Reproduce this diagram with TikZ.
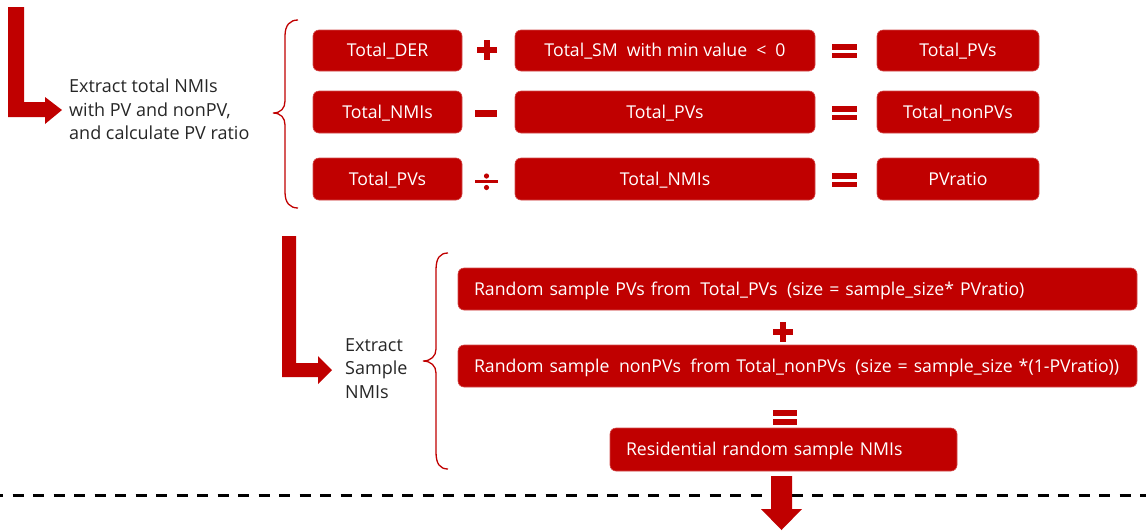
\documentclass[tikz,border=0pt]{standalone}
\usepackage{fontspec}
\setmainfont{Open Sans}
\definecolor{cred}{HTML}{C00000}
\definecolor{ctext}{HTML}{262626}
\newcommand{\gapsp}{\hspace{9.5pt}}
\tikzset{
  box/.style={fill=cred, draw=cred!70!white, line width=0.6, rounded corners=6, text=white, inner sep=0, align=center, text height=12.7, text depth=0, font=\fontsize{17.7}{22}\selectfont},
  lbox/.style={box, align=left, inner xsep=16},
  label/.style={text=ctext, align=left, anchor=north west, inner sep=0, font=\fontsize{18}{23.5}\selectfont},
  op/.style={fill=cred, draw=none},
  brc/.style={draw=cred, line width=1.3, fill=none},
}
\begin{document}
\begin{tikzpicture}[x=1pt,y=-1pt]
\useasboundingbox (0,0) rectangle (1146,531);
% dashed separator
\draw[black, line width=3, dash pattern=on 11 off 9.5, dash phase=8] (0,495) -- (1146,495);
% L arrows
\fill[cred] (8,7) -- (24,7) -- (24,102) -- (45,102) -- (45,97) -- (62,110) -- (45,124) -- (45,117) -- (8,117) -- cycle;
\fill[cred] (282,236) -- (296,236) -- (296,363) -- (318,363) -- (318,356) -- (332,370) -- (318,384) -- (318,377) -- (282,377) -- cycle;
% labels
\node[label] (l1) at (69,79) {Extract total NMIs\\with PV and nonPV,\\and calculate PV ratio};
\node[label] (l2) at (345,338) {Extract\\Sample\\NMIs};
% braces
\draw[brc] (298,20) .. controls (290,20) and (285,25) .. (285,36) -- (285,101) .. controls (285,108) and (281,113) .. (273,113) .. controls (281,113) and (285,118) .. (285,125) -- (285,192) .. controls (285,203) and (290,208) .. (298,208);
\draw[brc] (448,253) .. controls (440,253) and (436,258) .. (436,270) -- (436,349) .. controls (436,356) and (431,361) .. (423,361) .. controls (431,361) and (436,366) .. (436,373) -- (436,452) .. controls (436,464) and (440,469) .. (448,469);
% row 1
\node[box, minimum width=149, minimum height=41] (der) at (387.5,50.5) {Total\_DER};
\node[box, minimum width=300, minimum height=41] (sm) at (665,50.5) {Total\_SM\hspace{9pt}with min value\hspace{9pt}<\hspace{9pt}0};
\node[box, minimum width=162, minimum height=41] (pv1) at (958,50.5) {Total\_PVs};
% row 2
\node[box, minimum width=149, minimum height=42] (nmi1) at (387.5,112) {Total\_NMIs};
\node[box, minimum width=300, minimum height=42] (pv2) at (665,112) {Total\_PVs};
\node[box, minimum width=162, minimum height=42] (npv) at (958,112) {Total\_nonPVs};
% row 3
\node[box, minimum width=149, minimum height=42] (pv3) at (387.5,179) {Total\_PVs};
\node[box, minimum width=300, minimum height=42] (nmi2) at (665,179) {Total\_NMIs};
\node[box, minimum width=162, minimum height=42] (ratio) at (958,179) {PVratio};
% operators section 1
\fill[op] (477,47) rectangle (497,53);
\fill[op] (484,40) rectangle (490,60);
\fill[op] (475,110) rectangle (497,116.5);
\fill[op] (475,180) rectangle (498,183);
\fill[op] (486.5,176) circle (2.6);
\fill[op] (486.5,187.5) circle (2.6);
\foreach \yy in {44,106,173}{
  \fill[op] (832,\yy) rectangle (857,\yy+5.5);
  \fill[op] (832,\yy+8.5) rectangle (857,\yy+14);
}
% section 2 boxes
\node[lbox, text width=647, minimum height=42] (sa) at (797.5,289) {\mbox{Random sample PVs from\gapsp Total\_PVs\gapsp (size = sample\_size* PVratio)}};
\node[lbox, text width=647, minimum height=42] (sb) at (797.5,366) {\mbox{Random sample\gapsp nonPVs\gapsp from Total\_nonPVs\gapsp (size = sample\_size *(1-PVratio))}};
\node[lbox, text width=315, minimum height=43] (sc) at (783.5,449.5) {Residential random sample NMIs};
% section 2 operators
\fill[op] (773,329) rectangle (793,335);
\fill[op] (780,322) rectangle (786,342);
\fill[op] (773,410) rectangle (797,415.5);
\fill[op] (773,419) rectangle (797,424.5);
% down arrow
\fill[cred] (771,476) -- (792,476) -- (792,509) -- (802,509) -- (781.5,530) -- (761,509) -- (771,509) -- cycle;
\end{tikzpicture}
\end{document}
